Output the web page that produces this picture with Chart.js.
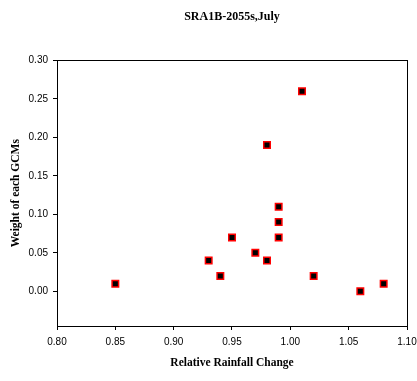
<!DOCTYPE html>
<html>
<head>
<meta charset="utf-8">
<script src="https://cdn.jsdelivr.net/npm/chart.js@4/dist/chart.umd.min.js"></script>
<style>
html,body{margin:0;padding:0;background:#fff;}
#wrap{width:417px;height:381px;position:relative;}
</style>
</head>
<body>
<div id="wrap"><canvas id="c" width="417" height="381"></canvas></div>
<script>
const chartTitle = "SRA1B-2055s,July";
const xAxisTitle = "Relative Rainfall Change";
const yAxisTitle = "Weight of each GCMs";
const rainfallChange = [0.85, 0.93, 0.94, 0.95, 0.97, 0.98, 0.98, 0.99, 0.99, 0.99, 1.01, 1.02, 1.06, 1.08];
const gcmWeight =      [0.01, 0.04, 0.02, 0.07, 0.05, 0.19, 0.04, 0.11, 0.09, 0.07, 0.26, 0.02, 0.00, 0.01];
const xTicks = [0.80, 0.85, 0.90, 0.95, 1.00, 1.05, 1.10];
const yTicks = [0.00, 0.05, 0.10, 0.15, 0.20, 0.25, 0.30];

const points = rainfallChange.map((x, i) => ({x: x, y: gcmWeight[i]}));

const frame = {
  id: 'frame',
  afterDraw(chart) {
    const a = chart.chartArea, ctx = chart.ctx;
    ctx.save();
    ctx.strokeStyle = '#000';
    ctx.lineWidth = 1;
    ctx.strokeRect(Math.round(a.left) + 0.5, Math.round(a.top) + 0.5, Math.round(a.right - a.left), Math.round(a.bottom - a.top));
    ctx.restore();
  }
};

new Chart(document.getElementById('c'), {
  type: 'scatter',
  data: {
    datasets: [{
      data: points,
      pointStyle: 'rect',
      pointRadius: 4.6,
      pointHoverRadius: 4.6,
      backgroundColor: '#000',
      borderColor: '#ff0000',
      borderWidth: 1.5
    }]
  },
  options: {
    responsive: false,
    animation: false,
    events: [],
    layout: {padding: {left: 5, right: 0, top: 0, bottom: 9}},
    plugins: {
      legend: {display: false},
      tooltip: {enabled: false},
      title: {
        display: true,
        text: chartTitle,
        fullSize: false,
        color: '#000',
        font: {family: '"Liberation Serif", "Times New Roman", serif', size: 12, weight: 'bold'},
        padding: {top: 10, bottom: 36}
      }
    },
    scales: {
      x: {
        type: 'linear',
        min: 0.80,
        max: 1.10,
        afterBuildTicks: s => { s.ticks = xTicks.map(v => ({value: v})); },
        afterFit: s => { s.height = 46; s.paddingRight = 10; s.paddingLeft = 0; },
        border: {display: true, color: '#000', width: 1},
        grid: {display: true, drawOnChartArea: false, drawTicks: true, tickLength: 4, color: '#000'},
        ticks: {
          color: '#000',
          padding: 6,
          maxRotation: 0,
          font: {family: '"Liberation Sans", Arial, sans-serif', size: 10},
          callback: v => Number(v).toFixed(2)
        },
        title: {
          display: true,
          text: xAxisTitle,
          color: '#000',
          font: {family: '"Liberation Serif", "Times New Roman", serif', size: 11.5, weight: 'bold'},
          padding: {top: 4, bottom: 2}
        }
      },
      y: {
        type: 'linear',
        min: -0.045,
        max: 0.30,
        afterBuildTicks: s => { s.ticks = yTicks.map(v => ({value: v})); },
        afterFit: s => { s.width = 52; },
        border: {display: true, color: '#000', width: 1},
        grid: {display: true, drawOnChartArea: false, drawTicks: true, tickLength: 4, color: '#000'},
        ticks: {
          color: '#000',
          padding: 5,
          font: {family: '"Liberation Sans", Arial, sans-serif', size: 10},
          callback: v => Number(v).toFixed(2)
        },
        title: {
          display: true,
          text: yAxisTitle,
          color: '#000',
          font: {family: '"Liberation Serif", "Times New Roman", serif', size: 11.5, weight: 'bold'},
          padding: {top: 4, bottom: 4}
        }
      }
    }
  },
  plugins: [frame]
});
</script>
</body>
</html>
